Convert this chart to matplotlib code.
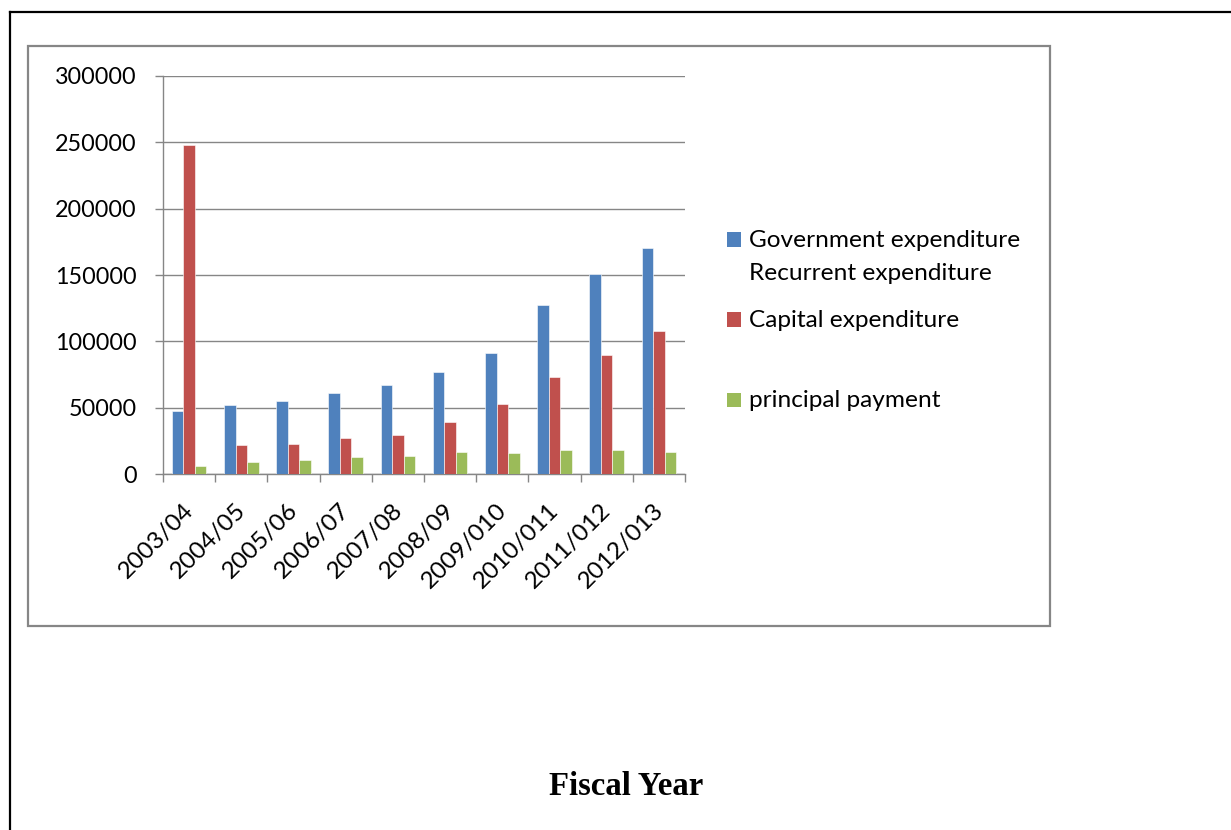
import numpy as np
import matplotlib.pyplot as plt
import matplotlib.transforms as mtransforms
from matplotlib.patches import Rectangle
from matplotlib.lines import Line2D

W, H = 1231, 830

years = ["2003/04", "2004/05", "2005/06", "2006/07", "2007/08",
         "2008/09", "2009/010", "2010/011", "2011/012", "2012/013"]
recurrent = [48000, 52000, 55000, 61500, 67000, 77000, 91300, 127500, 150800, 170000]
capital = [247500, 22000, 22800, 27000, 29300, 39300, 53000, 73000, 90000, 107600]
principal = [6000, 9300, 10800, 13200, 13800, 16500, 16000, 18500, 18300, 17000]

series_labels = ["Government expenditure\nRecurrent expenditure",
                 "Capital expenditure", "principal payment"]
colors = ["#4F81BD", "#C0504D", "#9BBB59"]
yticks = [0, 50000, 100000, 150000, 200000, 250000, 300000]

FONT = "Lato"
FS = 17.6
GRID = "#868686"


def fx(px):
    return px / W


def fy(py):
    return (H - py) / H


fig = plt.figure(figsize=(W / 100, H / 100), dpi=100)

# outer page frame and inner chart frame
fig.add_artist(Line2D([fx(10), fx(10)], [fy(12), fy(H + 5)], color="black", lw=1.6))
fig.add_artist(Line2D([fx(10), fx(W + 5)], [fy(12), fy(12)], color="black", lw=1.6))
fig.add_artist(Rectangle((fx(28), fy(626)), fx(1050) - fx(28), fy(46) - fy(626),
                         fill=False, edgecolor=GRID, lw=1.6))

ax = fig.add_axes([fx(163), fy(474.3), fx(685) - fx(163), fy(75.7) - fy(474.3)])

x = np.arange(len(years))
w = 0.222
for i, (vals, c) in enumerate(zip([recurrent, capital, principal], colors)):
    ax.bar(x + (i - 1) * w, vals, width=w, color=c, edgecolor="white", linewidth=0.4, zorder=3)

ax.set_xlim(-0.5, len(years) - 0.5)
ax.set_ylim(0, 300000)
ax.set_yticks(yticks)
ax.set_yticklabels([str(v) for v in yticks], fontfamily=FONT, fontsize=16.8)
ax.yaxis.grid(True, color=GRID, lw=1.0, zorder=0)
ax.tick_params(axis="y", length=6, width=1.0, color=GRID, pad=13)

ax.set_xticks(x)
ax.set_xticklabels(years, fontfamily=FONT, fontsize=FS, rotation=45,
                   ha="right", va="center", rotation_mode="anchor")
ax.set_xticks(np.arange(len(years) + 1) - 0.5, minor=True)
ax.tick_params(axis="x", which="major", length=0, pad=22)
ax.tick_params(axis="x", which="minor", length=6, width=1.0, color=GRID)
offset = mtransforms.ScaledTranslation(1 / 100, -2 / 100, fig.dpi_scale_trans)
for lab in ax.get_xticklabels():
    lab.set_transform(lab.get_transform() + offset)

for side in ["top", "right"]:
    ax.spines[side].set_visible(False)
for side in ["left", "bottom"]:
    ax.spines[side].set_color(GRID)
    ax.spines[side].set_linewidth(1.0)

# legend drawn at the right of the plot
leg_base = [247, 327, 407]
for lab, c, base in zip(series_labels, colors, leg_base):
    fig.add_artist(Rectangle((fx(727), fy(base)), fx(741.5) - fx(727), fy(232.5) - fy(247),
                             facecolor=c, edgecolor="none"))
    lines = lab.split("\n")
    for k, line in enumerate(lines):
        fig.text(fx(749), fy(base + 33 * k), line, fontfamily=FONT, fontsize=FS,
                 ha="left", va="baseline")

fig.text(fx(626), fy(795), "Fiscal Year", fontfamily="Liberation Serif",
         fontweight="bold", fontsize=23.6, ha="center", va="baseline")

fig.savefig("out.png", dpi=100)
